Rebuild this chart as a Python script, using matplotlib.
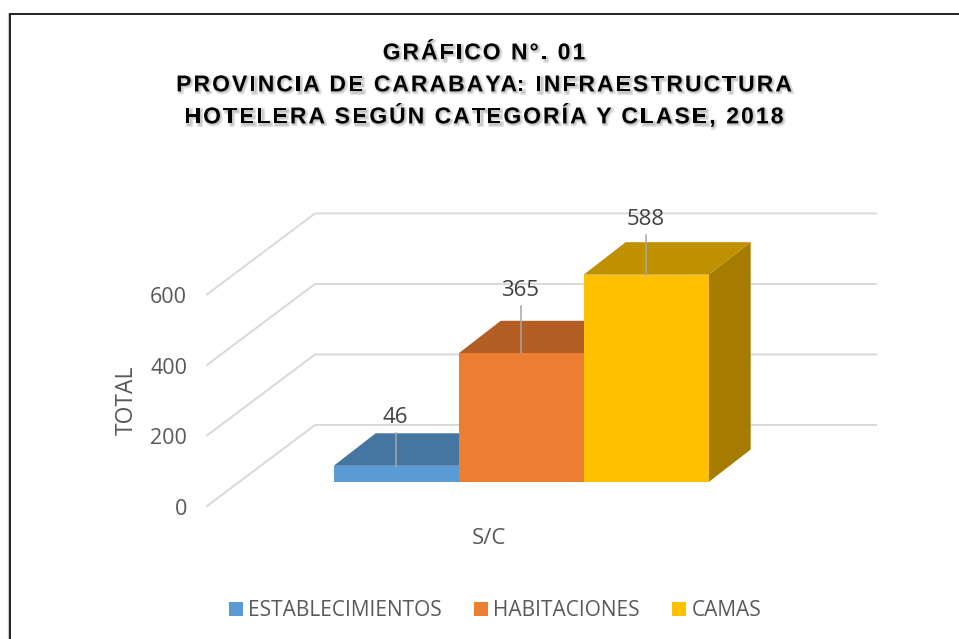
import matplotlib
matplotlib.use("Agg")
import matplotlib.pyplot as plt
from matplotlib.patches import Polygon, Rectangle, Patch
from matplotlib.text import Text
from matplotlib.transforms import IdentityTransform, Bbox
import matplotlib.patheffects as pe

# ---- data ----
series = ["ESTABLECIMIENTOS", "HABITACIONES", "CAMAS"]
values = [46, 365, 588]
category = ["S/C"]
y_ticks = [0, 200, 400, 600]
title = ("GRÁFICO N°. 01\nPROVINCIA DE CARABAYA: INFRAESTRUCTURA\n"
         "HOTELERA SEGÚN CATEGORÍA Y CLASE, 2018")

# ---- styles ----
front_cols = ["#5B9BD5", "#ED7D31", "#FFC000"]
top_cols = ["#4575A1", "#B25E25", "#BF9000"]
side_cols = ["#386085", "#8F4B1D", "#A67C00"]
grid_col = "#D9D9D9"
txt_col = "#595959"
lbl_col = "#404040"
lead_col = "#A6A6A6"

W, H = 959, 639
PX_PER_BAR = 125.0
PX_PER_UNIT = 0.3526
X0_PX, Y0_PX = 333.7, 482.0
BAR_DX, BAR_DY = 42 / PX_PER_BAR, 32.5 / PX_PER_UNIT     # bar depth
FLOOR_LEFT_X = (207 - X0_PX) / PX_PER_BAR
FLOOR_LEFT_Y = (482 - 506) / PX_PER_UNIT
WALL_DX, WALL_DY = 108 / PX_PER_BAR, 81 / PX_PER_UNIT
WALL_RIGHT_X = (876 - X0_PX) / PX_PER_BAR
LABEL_LIFT = [50, 65, 57.5]   # px above the bar's front top
LEAD_LIFT = [33, 47, 40]


class TrackedText(Text):
    """One text object whose glyphs are drawn with letter spacing."""
    def __init__(self, *a, tracking=0, line_px=32, **k):
        super().__init__(*a, **k)
        self.tracking, self.line_px = tracking, line_px

    def _w(self, renderer, s):
        return renderer.get_text_width_height_descent(s, self.get_fontproperties(), False)[0]

    def draw(self, renderer):
        cx, cy = self.get_transform().transform(self.get_position())
        cap_px = 0.729 * self.get_fontsize() * renderer.points_to_pixels(1.0)
        lines = self.get_text().split("\n")
        first_base = cy + (len(lines) - 1) / 2 * self.line_px - cap_px / 2
        for n, line in enumerate(lines):
            total = self._w(renderer, line) + self.tracking * (len(line) - 1)
            for i, ch in enumerate(line):
                x = cx - total / 2 + (self._w(renderer, line[:i]) + i * self.tracking if i else 0)
                t = Text(x, first_base - n * self.line_px, ch, transform=IdentityTransform(),
                         fontproperties=self.get_fontproperties(), color=self.get_color(),
                         ha="left", va="baseline", path_effects=self.get_path_effects())
                t.set_figure(self.get_figure())
                t.draw(renderer)

    def get_window_extent(self, renderer=None, dpi=None):
        r = renderer or self.get_figure().canvas.get_renderer()
        cx, cy = self.get_transform().transform(self.get_position())
        lines = self.get_text().split("\n")
        w = max(self._w(r, s) + self.tracking * (len(s) - 1) for s in lines)
        h = len(lines) * self.line_px
        return Bbox.from_extents(cx - w / 2, cy - h / 2, cx + w / 2, cy + h / 2)


fig = plt.figure(figsize=(W / 100, H / 100), dpi=100, facecolor="white")
ax = fig.add_axes([0, 0, 1, 1])
ax.set_xlim(-X0_PX / PX_PER_BAR, (W - X0_PX) / PX_PER_BAR)
ax.set_ylim((Y0_PX - H) / PX_PER_UNIT, Y0_PX / PX_PER_UNIT)
ax.axis("off")

def px(x, y):
    return ((x - X0_PX) / PX_PER_BAR, (Y0_PX - y) / PX_PER_UNIT)

# frame of the chart: top and left edges only, the rest is cropped away
ax.plot(*zip(px(8.3, 639), px(8.3, 13)), color="#C8C8C8", lw=0.9, clip_on=False, zorder=1)
ax.plot(*zip(px(9.8, 639), px(9.8, 13.8), px(959, 13.8)), color="#111111", lw=1.3,
        solid_joinstyle="miter", clip_on=False, zorder=1)

# gridlines: floor/side wall and back wall
for v in y_ticks:
    ax.plot([FLOOR_LEFT_X, FLOOR_LEFT_X + WALL_DX, WALL_RIGHT_X],
            [FLOOR_LEFT_Y + v, FLOOR_LEFT_Y + WALL_DY + v, FLOOR_LEFT_Y + WALL_DY + v],
            color=grid_col, lw=1.4, zorder=2, solid_joinstyle="miter")
    ax.text(FLOOR_LEFT_X - 20 / PX_PER_BAR, FLOOR_LEFT_Y + v - 3.5 / PX_PER_UNIT, str(v), ha="right", va="center",
            fontsize=15.5, color=txt_col, family="Open Sans", zorder=6)

# bars
for i, (v, fc, tc, sc) in enumerate(zip(values, front_cols, top_cols, side_cols)):
    z = 3 + i * 0.1
    ax.add_patch(Polygon([(i + 1, 0), (i + 1 + BAR_DX, BAR_DY), (i + 1 + BAR_DX, v + BAR_DY), (i + 1, v)],
                         closed=True, fc=sc, ec="none", zorder=z))
    ax.add_patch(Polygon([(i, v), (i + BAR_DX, v + BAR_DY), (i + 1 + BAR_DX, v + BAR_DY), (i + 1, v)],
                         closed=True, fc=tc, ec="none", zorder=z))
    ax.add_patch(Rectangle((i, 0), 1, v, fc=fc, ec="none", zorder=z + 0.05))

# leader lines and data labels
for i, v in enumerate(values):
    ax.plot([i + 0.5 - 0.7 / PX_PER_BAR] * 2, [v, v + LEAD_LIFT[i] / PX_PER_UNIT], color=lead_col, lw=1.1, zorder=5)
    ax.text(i + 0.5 - 1 / PX_PER_BAR, v + (LABEL_LIFT[i] - 2) / PX_PER_UNIT, str(v), ha="center", va="center",
            fontsize=16, color=lbl_col, family="Open Sans", zorder=6)

# axis titles
ax.text(*px(127, 400), "TOTAL", rotation=90, ha="center", va="center", fontsize=16.5, color=txt_col,
        family="Open Sans")
ax.text(*px(489, 538), category[0], ha="center", va="center", fontsize=16, color=txt_col, family="Open Sans")

# title
shadow = [pe.Stroke(linewidth=2.2, foreground="#000000", alpha=0.12, offset=(1, -1)), pe.Normal()]
t = TrackedText(484, H - 83, title, tracking=2.1, line_px=32, ha="center", va="center", linespacing=1.2,
                transform=IdentityTransform(), fontsize=16.5, fontweight="bold",
                family="Liberation Sans", color="#000000", path_effects=shadow)
fig.add_artist(t)

# legend
handles = [Patch(fc=c, ec="none") for c in front_cols]
fig.legend(handles, series, loc="center", bbox_to_anchor=(495 / W, 1 - 611 / H), ncol=3, frameon=False,
           prop={"family": "Open Sans", "size": 15}, labelcolor=txt_col, handlelength=0.67, handleheight=0.67,
           handletextpad=0.25, columnspacing=1.55, borderpad=0)

fig.savefig("out.png", dpi=100, facecolor="white")
